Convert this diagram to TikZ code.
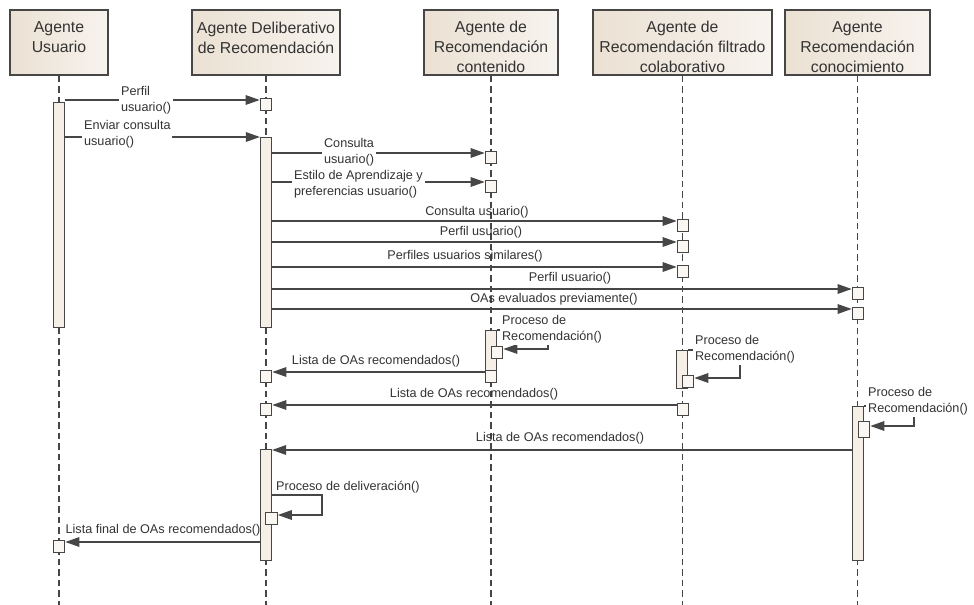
\documentclass[tikz,border=0pt]{standalone}
\usepackage{fontspec}
\setmainfont{Liberation Sans}
\usetikzlibrary{arrows.meta}

\definecolor{lineC}{HTML}{464646}
\definecolor{txtC}{HTML}{333333}
\definecolor{headL}{HTML}{EBE1D3}
\definecolor{headR}{HTML}{F7F3EE}
\definecolor{actC}{HTML}{F6EFE7}

\newcommand{\headfont}{\fontsize{9}{11.3}\selectfont}
\newcommand{\lblfont}{\fontsize{7.2}{9.4}\selectfont}

\tikzset{
  headbox/.style={draw=lineC, line width=0.8pt, left color=headL, right color=headR,
    minimum height=1.3cm, inner sep=0pt},
  headtxt/.style={align=center, font=\headfont, text=txtC, inner sep=0pt},
  life/.style={lineC, line width=0.6pt, dash pattern=on 0.13cm off 0.08cm},
  act/.style={draw=lineC, fill=actC, line width=0.6pt, minimum width=0.22cm,
    inner sep=0pt, anchor=north},
  rbox/.style={draw=lineC, fill=actC!50!white, line width=0.6pt, minimum width=0.23cm,
    minimum height=0.24cm, inner sep=0pt, anchor=north},
  msg/.style={lineC, line width=0.8pt, -{Triangle[length=0.28cm, width=0.19cm]}},
  lbl/.style={font=\lblfont, text=txtC, inner sep=1pt, align=left},
  lblw/.style={lbl, fill=white}
}

\begin{document}
\begin{tikzpicture}[x=0.02cm, y=-0.02cm]

\useasboundingbox (0,0) rectangle (974,605);

\node[headbox, minimum width=1.96cm] (usr) at (59,42.5) {};
\node[headbox, minimum width=2.96cm] (del) at (266,42.5) {};
\node[headbox, minimum width=2.68cm] (cont) at (491,42.5) {};
\node[headbox, minimum width=3.58cm] (filt) at (682.5,42.5) {};
\node[headbox, minimum width=2.9cm] (conoc) at (857.5,42.5) {};

\node[headtxt] (usrT) at (59,37.5) {Agente\\Usuario};
\node[headtxt] (delT) at (266,37.5) {Agente Deliberativo\\de Recomendación};
\node[headtxt] (contT) at (491,47) {Agente de\\Recomendación\\contenido};
\node[headtxt] (filtT) at (682.5,47) {Agente de\\Recomendación filtrado\\colaborativo};
\node[headtxt] (conocT) at (857.5,47) {Agente\\Recomendación\\conocimiento};

\draw[life] (usr.south) -- (usr.south |- 0,605);
\draw[life] (del.south) -- (del.south |- 0,605);
\draw[life] (cont.south) -- (cont.south |- 0,605);
\draw[life] (filt.south) -- (filt.south |- 0,605);
\draw[life] (conoc.south) -- (conoc.south |- 0,605);

\node[act, minimum height=4.5cm] (aU) at (59,102) {};
\node[act, minimum height=3.8cm] (aD1) at (266,137) {};
\node[act, minimum height=2.22cm] (aD2) at (266,449) {};
\node[act, minimum height=0.9cm] (aC) at (491,330) {};
\node[act, minimum height=0.76cm] (aF) at (682,350) {};
\node[act, minimum height=3.08cm] (aK) at (858,406) {};

\node[rbox] (bP) at (266,98) {};
\node[rbox] (bCU) at (491,151) {};
\node[rbox] (bEA) at (491,180) {};
\node[rbox] (bF1) at (683,219) {};
\node[rbox] (bF2) at (683,240) {};
\node[rbox] (bF3) at (683,265) {};
\node[rbox] (bK1) at (858,287) {};
\node[rbox] (bK2) at (858,307) {};
\node[rbox] (iC) at (497,346) {};
\node[rbox] (sC) at (491,370) {};
\node[rbox] (bR1) at (266,370) {};
\node[rbox] (iF) at (688,375) {};
\node[rbox] (sF) at (683,403) {};
\node[rbox] (bR2) at (266,403) {};
\node[rbox, minimum height=0.32cm] (iK) at (864,421) {};
\node[rbox] (iD) at (271.5,512) {};
\node[rbox] (bLF) at (59,540) {};

\draw[msg] (aU.east |- 0,100) -- (bP.west |- 0,100);
\draw[msg] (aU.east |- 0,137) -- (aD1.west |- 0,137);
\draw[msg] (aD1.east |- 0,153) -- (bCU.west |- 0,153);
\draw[msg] (aD1.east |- 0,182) -- (bEA.west |- 0,182);
\draw[msg] (aD1.east |- 0,221) -- (bF1.west |- 0,221);
\draw[msg] (aD1.east |- 0,242) -- (bF2.west |- 0,242);
\draw[msg] (aD1.east |- 0,267) -- (bF3.west |- 0,267);
\draw[msg] (aD1.east |- 0,289) -- (bK1.west |- 0,289);
\draw[msg] (aD1.east |- 0,309) -- (bK2.west |- 0,309);

\draw[msg] (aC.north east) -- ++(51,0) |- (iC.east |- 0,349);
\draw[msg] (aF.north east) -- ++(52,0) |- (iF.east |- 0,378);
\draw[msg] (aK.north east) -- ++(50,0) |- (iK.east |- 0,426);
\draw[msg] (aD2.east |- 0,495) -- ++(50,0) |- (iD.east |- 0,515);

\draw[msg] (sC.west |- 0,372) -- (bR1.east |- 0,372);
\draw[msg] (sF.west |- 0,405) -- (bR2.east |- 0,405);
\draw[msg] (aK.west |- 0,450) -- (aD2.east |- 0,450);
\draw[msg] (aD2.west |- 0,542) -- (bLF.east |- 0,542);

\node[lblw, anchor=west] (lP) at (119,100) {Perfil\\usuario()};
\node[lblw, anchor=west] (lEC) at (82,134) {Enviar consulta\\usuario()};
\node[lblw, anchor=west] (lCU) at (322,152) {Consulta\\usuario()};
\node[lblw, anchor=west] (lEA) at (292,184) {Estilo de Aprendizaje y\\preferencias usuario()};
\node[lbl] (l1) at (477,212) {Consulta usuario()};
\node[lbl] (l2) at (481,232) {Perfil usuario()};
\node[lbl] (l3) at (465,256) {Perfiles usuarios similares()};
\node[lbl] (l4) at (570,278) {Perfil usuario()};
\node[lbl] (l5) at (554,299) {OAs evaluados previamente()};
\node[lblw, anchor=west] (lPC) at (500,329) {Proceso de\\Recomendación()};
\node[lblw, anchor=west] (lPF) at (693,349) {Proceso de\\Recomendación()};
\node[lblw, anchor=west] (lPK) at (866,401) {Proceso de\\Recomendación()};
\node[lbl] (lR1) at (376,361) {Lista de OAs recomendados()};
\node[lbl] (lR2) at (474,394) {Lista de OAs recomendados()};
\node[lbl] (lR3) at (560,438) {Lista de OAs recomendados()};
\node[lbl, anchor=west] (lDel) at (274,487) {Proceso de deliveración()};
\node[lbl] (lLF) at (163,530) {Lista final de OAs recomendados()};

\end{tikzpicture}
\end{document}
